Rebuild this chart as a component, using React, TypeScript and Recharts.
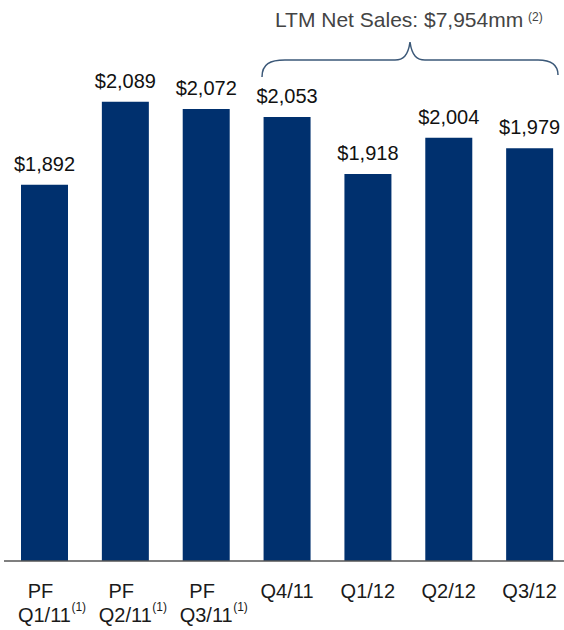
import { Bar, BarChart, LabelList, XAxis, YAxis } from "recharts";

const quarters = ["PF Q1/11", "PF Q2/11", "PF Q3/11", "Q4/11", "Q1/12", "Q2/12", "Q3/12"];
const netSales = [1892, 2089, 2072, 2053, 1918, 2004, 1979];
const footnotes = ["(1)", "(1)", "(1)", "", "", "", ""];

const FONT = "'Liberation Sans', Arial, sans-serif";
const NAVY = "#00306e";

const data = quarters.map((q, i) => ({ quarter: q, sales: netSales[i], note: footnotes[i] }));

function QuarterTick(props: any) {
  const { x, y, payload, index } = props;
  const label: string = payload.value;
  const note = footnotes[index] ?? "";
  const isPF = label.startsWith("PF ");
  const main = isPF ? label.slice(3) : label;
  return (
    <g>
      {isPF && (
        <text x={x - 4} y={y + 37} textAnchor="middle" fontSize={20} fontFamily={FONT} fill="#1a1a1a">
          PF
        </text>
      )}
      <text
        x={x}
        y={isPF ? y + 61 : y + 37}
        textAnchor="middle"
        fontSize={20}
        fontFamily={FONT}
        fill="#1a1a1a"
      >
        {main}
      </text>
      {note && (
        <text x={x + 27} y={y + 50} fontSize={12} fontFamily={FONT} fill="#1a1a1a">
          {note}
        </text>
      )}
    </g>
  );
}

export default function App() {
  return (
    <div style={{ position: "absolute", left: 0, top: 0, width: 564, height: 630, overflow: "hidden", background: "#fff" }}>
      <BarChart width={570} height={630} data={data} margin={{ top: 55, right: 0, left: 4, bottom: 0 }}>
        <XAxis
          dataKey="quarter"
          height={69}
          interval={0}
          tickLine={false}
          tickSize={0}
          tickMargin={0}
          axisLine={{ stroke: "#555", strokeWidth: 1.5 }}
          tick={<QuarterTick />}
        />
        <YAxis hide domain={[1000, 2200]} allowDataOverflow />
        <Bar dataKey="sales" fill={NAVY} barSize={47} isAnimationActive={false}>
          <LabelList
            dataKey="sales"
            position="top"
            offset={14}
            formatter={(v: any) => `$${Number(v).toLocaleString("en-US")}`}
            style={{ fontSize: 20, fontFamily: FONT, fill: "#111" }}
          />
        </Bar>
      </BarChart>
      <svg width={564} height={100} style={{ position: "absolute", left: 0, top: 0, pointerEvents: "none" }}>
        <text x={275} y={27} fontSize={21} fontFamily={FONT} fill="#444">
          LTM Net Sales: $7,954mm
        </text>
        <text x={528} y={21} fontSize={12} fontFamily={FONT} fill="#444">
          (2)
        </text>
        <path
          d="M262,77 C262,64 270,60 285,60 L395,60 C403,60 408,56 410,42 C412,56 417,60 425,60 L538,60 C550,60 558,64 558,75"
          fill="none"
          stroke="#3b5878"
          strokeWidth={1.5}
        />
      </svg>
    </div>
  );
}
